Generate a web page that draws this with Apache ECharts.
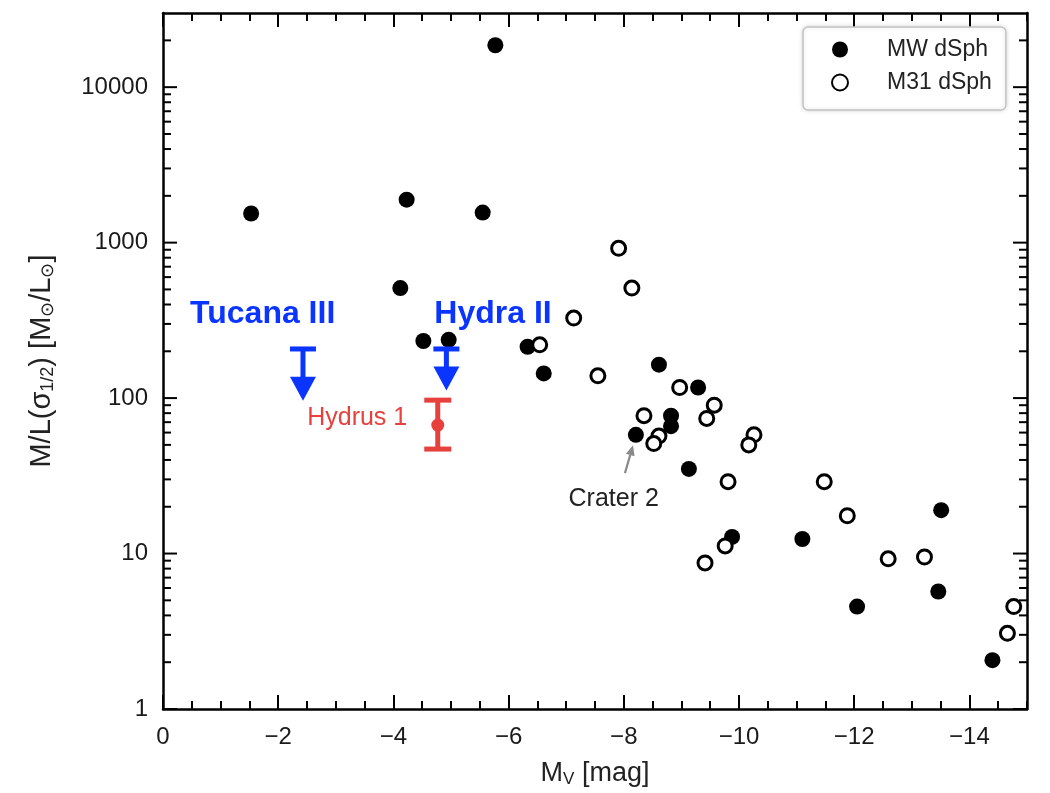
<!DOCTYPE html>
<html><head><meta charset="utf-8">
<script src="https://cdn.jsdelivr.net/npm/echarts@6/dist/echarts.min.js"></script>
<style>html,body{margin:0;padding:0;background:#fff}#c{width:1050px;height:793px}</style>
</head><body><div id="c"></div>
<script>
// ---- Data ----
const mwMag = [-5.77,-1.53,-4.23,-5.55,-4.12,-4.52,-4.96,-6.33,-6.61,-8.61,-9.29,-8.82,-8.82,-8.21,-9.13,-9.88,-11.10,-12.05,-13.51,-13.46,-14.40];
const mwML  = [18600,1540,1890,1560,510,233,237,214,144,164,117,77,66,58,35,12.8,12.4,4.56,19.0,5.7,2.06];
const m31Mag = [-7.91,-8.14,-7.13,-6.54,-7.55,-8.97,-8.35,-9.57,-9.44,-8.61,-8.52,-10.26,-10.17,-9.81,-11.48,-11.88,-9.76,-9.41,-12.59,-13.22,-14.77,-14.66];
const m31ML  = [919,510,327,220,139,117,77,90,74,57,51,58,50,29,29,17.5,11.2,8.7,9.25,9.5,4.56,3.07];
const limitNames = ['Tucana III','Hydra II'];
const limitMag = [-2.43,-4.92];
const limitTop = [207,207];
const limitTip = [96,112];
const hydrusMag = [-4.77];
const hydrusML = [67];
const hydrusLow = [47];
const hydrusHigh = [97];
const annText = ['Tucana III','Hydra II','Hydrus 1','Crater 2'];
const annMag = [-0.47,-4.71,-4.24,-7.04];
const annML = [347,347,74,22.4];
const craterArrowFrom = [-8.02,32.9];
const craterArrowTo = [-8.16,49.7];
const xTickVals = [0,-2,-4,-6,-8,-10,-12,-14];
const yTickVals = [1,10,100,1000,10000];
const yMinorVals = [2,3,4,5,6,7,8,9,20,30,40,50,60,70,80,90,200,300,400,500,600,700,800,900,2000,3000,4000,5000,6000,7000,8000,9000,20000];

// ---- Styles ----
const FONT = '"Liberation Sans", Arial, Helvetica, sans-serif';
const BLUE = '#0a34ff';
const RED = '#e8403c';
const X_MIN = -15, X_MAX = 0;
const MAJOR_LEN = 14, MINOR_LEN = 8;

const annStyles = [
  {font:'bold 32px ' + FONT, fill:BLUE, align:'left'},
  {font:'bold 32px ' + FONT, fill:BLUE, align:'left'},
  {font:'25px ' + FONT, fill:RED, align:'right'},
  {font:'25px ' + FONT, fill:'#222', align:'left'}
];

// y ticks: [side, value, length] ; side 0 = left edge, 1 = right edge
const yTickData = [];
[0,1].forEach(side => {
  yTickVals.forEach(v => yTickData.push([side, v, MAJOR_LEN]));
  yMinorVals.forEach(v => yTickData.push([side, v, MINOR_LEN]));
});

function xAxisDef(pos, withMajor, withLabels) {
  return {
    type:'value', min:X_MIN, max:X_MAX, inverse:true, position:pos,
    interval: withMajor ? 2 : 0.5,
    splitLine:{show:false},
    axisLine:{show:!withMajor, onZero:false, lineStyle:{color:'#000', width:2.5}},
    axisTick:{show:true, inside:true, length: withMajor ? MAJOR_LEN : MINOR_LEN,
      customValues: withMajor ? xTickVals : undefined, lineStyle:{color:'#000', width:2}},
    axisLabel: withLabels ? {show:true, customValues:xTickVals, fontSize:24, color:'#1a1a1a', fontFamily:FONT, margin:16,
      formatter:v => v === 0 ? '0' : '\u2212' + Math.abs(v)} : {show:false}
  };
}

const xAxes = [xAxisDef('bottom', false, true), xAxisDef('bottom', true, false), xAxisDef('top', false, false), xAxisDef('top', true, false)];
xAxes[0].name = '{a|M}{s|V}{a| [mag]}';
xAxes[0].nameLocation = 'middle';
xAxes[0].nameGap = 50;
xAxes[0].nameTextStyle = {fontFamily:FONT, color:'#222', rich:{
  a:{fontSize:27, fontFamily:FONT, color:'#222'},
  s:{fontSize:17, fontFamily:FONT, color:'#222', verticalAlign:'bottom', padding:[12,0,0,0]}}};

const chart = echarts.init(document.getElementById('c'), null, {renderer:'canvas'});
chart.setOption({
  animation:false,
  backgroundColor:'#fff',
  grid:{left:163, right:23, top:13, bottom:80},
  legend:{
    data:['MW dSph','M31 dSph'], orient:'vertical', left:803, top:27,
    padding:[11,14,16,28], itemWidth:16, itemHeight:16, itemGap:10,
    borderColor:'#c4c4c4', borderWidth:1.5, borderRadius:5, backgroundColor:'#fff',
    shadowBlur:4, shadowColor:'rgba(0,0,0,0.15)',
    textStyle:{fontSize:23, color:'#222', fontFamily:FONT, padding:[0,0,0,34], width:119}
  },
  xAxis:xAxes,
  yAxis:[
    {type:'log', logBase:10, min:1, max:30000, position:'left', splitLine:{show:false},
      axisLine:{show:true, onZero:false, lineStyle:{color:'#000', width:2.5}},
      axisTick:{show:false},
      axisLabel:{customValues:yTickVals, fontSize:24, color:'#1a1a1a', fontFamily:FONT, margin:15,
        formatter:v => String(Math.round(v))},
      name:'{a|M/L(σ}{s|1/2}{a|) [M}{s|⊙}{a|/L}{s|⊙}{a|]}', nameLocation:'middle', nameGap:106,
      nameTextStyle:{fontFamily:FONT, color:'#222', rich:{
        a:{fontSize:29, fontFamily:FONT, color:'#222'},
        s:{fontSize:18, fontFamily:FONT, color:'#222', verticalAlign:'bottom', padding:[13,0,0,0]}}}
    },
    {type:'log', logBase:10, min:1, max:30000, position:'right', splitLine:{show:false},
      axisLine:{show:true, onZero:false, lineStyle:{color:'#000', width:2.5}},
      axisTick:{show:false}, axisLabel:{show:false}}
  ],
  series:[
    {name:'y ticks', type:'custom', z:10, silent:true, clip:false, data:yTickData,
      encode:{x:-1, y:1},
      renderItem:(params, api) => {
        const cs = params.coordSys;
        const side = api.value(0);
        const p = api.coord([X_MIN, api.value(1)]);
        const len = api.value(2);
        const x0 = side === 0 ? cs.x : cs.x + cs.width - len;
        return {type:'rect', shape:{x:x0, y:p[1]-1, width:len, height:2}, style:{fill:'#000'}};
      }},
    {name:'MW dSph', type:'scatter', symbol:'circle', symbolSize:16,
      itemStyle:{color:'#000', opacity:1}, data:mwMag.map((m,i)=>[m, mwML[i]]), z:3},
    {name:'M31 dSph', type:'scatter', symbol:'circle', symbolSize:14,
      itemStyle:{color:'#fff', borderColor:'#000', borderWidth:3, opacity:1}, data:m31Mag.map((m,i)=>[m, m31ML[i]]), z:4},
    {name:'limits', type:'custom', z:5, silent:true,
      data:limitMag.map((m,i)=>[m, limitTop[i], limitTip[i]]),
      renderItem:(params, api) => {
        const top = api.coord([api.value(0), api.value(1)]);
        const tip = api.coord([api.value(0), api.value(2)]);
        const x = top[0], headH = 24, halfW = 13;
        return {type:'group', children:[
          {type:'rect', shape:{x:x-13, y:top[1]-2.5, width:26, height:5}, style:{fill:BLUE}},
          {type:'rect', shape:{x:x-2.5, y:top[1], width:5, height:tip[1]-headH-top[1]+1}, style:{fill:BLUE}},
          {type:'polygon', shape:{points:[[x-halfW, tip[1]-headH],[x+halfW, tip[1]-headH],[x, tip[1]]]}, style:{fill:BLUE}}
        ]};
      }},
    {name:'Hydrus 1', type:'custom', z:5, silent:true,
      data:hydrusMag.map((m,i)=>[m, hydrusML[i], hydrusLow[i], hydrusHigh[i]]),
      renderItem:(params, api) => {
        const c = api.coord([api.value(0), api.value(1)]);
        const lo = api.coord([api.value(0), api.value(2)]);
        const hi = api.coord([api.value(0), api.value(3)]);
        const x = c[0];
        return {type:'group', children:[
          {type:'rect', shape:{x:x-2.5, y:hi[1], width:5, height:lo[1]-hi[1]}, style:{fill:RED}},
          {type:'rect', shape:{x:x-13.5, y:hi[1]-2.5, width:27, height:5}, style:{fill:RED}},
          {type:'rect', shape:{x:x-13.5, y:lo[1]-2.5, width:27, height:5}, style:{fill:RED}},
          {type:'circle', shape:{cx:x, cy:c[1], r:6.5}, style:{fill:RED}}
        ]};
      }},
    {name:'crater arrow', type:'custom', z:5, silent:true,
      data:[[craterArrowFrom[0], craterArrowFrom[1], craterArrowTo[0], craterArrowTo[1]]],
      renderItem:(params, api) => {
        const a = api.coord([api.value(0), api.value(1)]);
        const b = api.coord([api.value(2), api.value(3)]);
        const dx = b[0]-a[0], dy = b[1]-a[1], L = Math.sqrt(dx*dx+dy*dy);
        const ux = dx/L, uy = dy/L, hl = 10, hw = 4.5;
        const bx = b[0]-ux*hl, by = b[1]-uy*hl;
        return {type:'group', children:[
          {type:'line', shape:{x1:a[0], y1:a[1], x2:bx, y2:by}, style:{stroke:'#8a8a8a', lineWidth:2.2}},
          {type:'polygon', shape:{points:[[b[0],b[1]],[bx-uy*hw, by+ux*hw],[bx+uy*hw, by-ux*hw]]}, style:{fill:'#8a8a8a'}}
        ]};
      }},
    {name:'annotations', type:'custom', z:6, silent:true,
      data:annMag.map((m,i)=>[m, annML[i]]),
      renderItem:(params, api) => {
        const i = params.dataIndex;
        const p = api.coord([api.value(0), api.value(1)]);
        const s = annStyles[i];
        return {type:'text', x:p[0], y:p[1], style:{text:annText[i], font:s.font, fill:s.fill, align:s.align, verticalAlign:'middle'}};
      }}
  ]
});
</script>
</body></html>
